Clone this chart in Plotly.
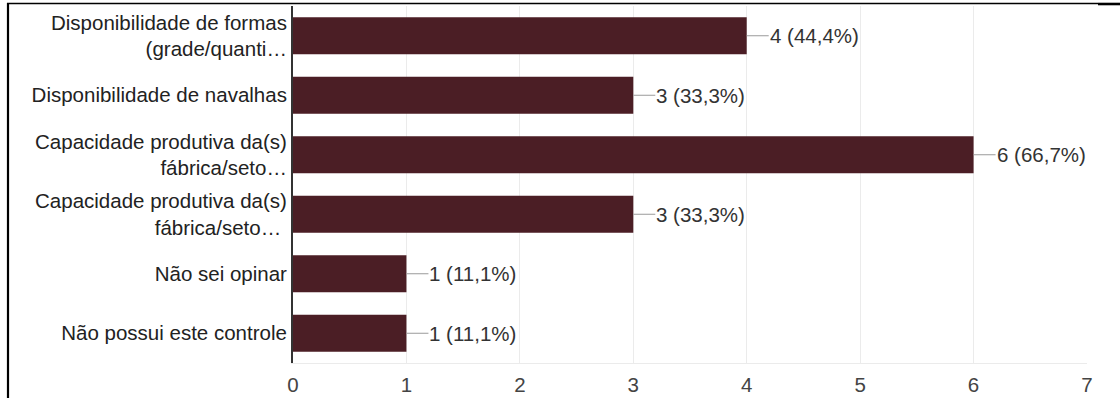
import plotly.graph_objects as go

# Survey answers (9 respondents), top to bottom
categories = [
    "Disponibilidade de formas<br>(grade/quanti…",
    "Disponibilidade de navalhas",
    "Capacidade produtiva da(s)<br>fábrica/seto…",
    "Capacidade produtiva da(s)<br>fábrica/seto… ",
    "Não sei opinar",
    "Não possui este controle",
]
counts = [4, 3, 6, 3, 1, 1]
total_respondents = 9
x_ticks = [0, 1, 2, 3, 4, 5, 6, 7]

BAR_COLOR = "#4b1e25"
FONT = "Liberation Sans, Arial, sans-serif"
FS = 20.5

# Figure geometry in pixels (used only to place the frame lines)
W, H = 1120, 398
ML, MR, MT, MB = 293, 33, 6, 35
PW, PH = W - ML - MR, H - MT - MB


def px_x(px):
    return (px - ML) / PW


def px_y(py):
    return (H - MB - py) / PH


fig = go.Figure(
    go.Bar(
        x=counts,
        y=categories,
        orientation="h",
        marker=dict(color=BAR_COLOR, line=dict(width=0)),
        hoverinfo="skip",
    )
)

# Value labels with a short leader line from the bar end
for cat, v in zip(categories, counts):
    pct = f"{v / total_respondents * 100:.1f}".replace(".", ",")
    fig.add_annotation(
        x=v,
        y=cat,
        text=f"{v} ({pct}%)",
        showarrow=True,
        arrowhead=0,
        arrowwidth=1.2,
        arrowcolor="#9a9a9a",
        axref="pixel",
        ayref="pixel",
        ax=22,
        ay=0,
        xanchor="left",
        yanchor="middle",
        font=dict(family=FONT, size=FS, color="#333333"),
        standoff=0,
        startstandoff=0,
        borderpad=0,
    )

# Outer frame lines (left and top)
frame = [
    dict(x0=px_x(8), x1=px_x(8), y0=px_y(3), y1=px_y(400), width=2.2),
    dict(x0=px_x(7), x1=px_x(1098), y0=px_y(3.5), y1=px_y(3.5), width=1.6),
    dict(x0=px_x(1098), x1=px_x(1122), y0=px_y(4), y1=px_y(4), width=2.6),
]
for f in frame:
    fig.add_shape(
        type="line",
        xref="paper",
        yref="paper",
        x0=f["x0"],
        x1=f["x1"],
        y0=f["y0"],
        y1=f["y1"],
        line=dict(color="#000000", width=f["width"]),
        layer="above",
    )

fig.update_layout(
    width=W,
    height=H,
    margin=dict(l=ML, r=MR, t=MT, b=MB, pad=0, autoexpand=False),
    paper_bgcolor="white",
    plot_bgcolor="white",
    bargap=0.38,
    showlegend=False,
    font=dict(family=FONT, size=FS, color="#222222"),
    xaxis=dict(
        range=[0, 7],
        tickvals=x_ticks,
        ticktext=[str(t) for t in x_ticks],
        automargin=False,
        showgrid=True,
        gridcolor="#ebebeb",
        gridwidth=1,
        zeroline=False,
        showline=True,
        linecolor="#ebebeb",
        linewidth=1,
        ticks="outside",
        ticklen=3,
        tickcolor="rgba(0,0,0,0)",
        tickfont=dict(family=FONT, size=FS, color="#444444"),
        fixedrange=True,
    ),
    yaxis=dict(
        categoryorder="array",
        categoryarray=categories,
        autorange="reversed",
        automargin=False,
        showgrid=False,
        zeroline=False,
        showline=True,
        linecolor="#333333",
        linewidth=2,
        ticks="",
        tickfont=dict(family=FONT, size=FS, color="#222222"),
        fixedrange=True,
    ),
)

fig.write_html("out.html", config={"displayModeBar": False})
